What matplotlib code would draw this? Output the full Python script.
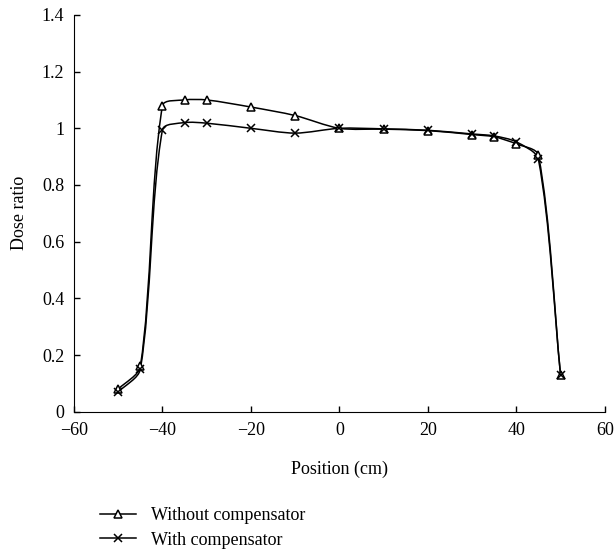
import numpy as np
import matplotlib
matplotlib.use("Agg")
from matplotlib import pyplot as plt
from matplotlib.path import Path
from matplotlib.patches import PathPatch
from matplotlib.lines import Line2D

position = [-50, -45, -40, -35, -30, -20, -10, 0, 10, 20, 30, 35, 40, 45, 50]
without_comp = [0.08, 0.16, 1.08, 1.10, 1.10, 1.075, 1.045, 1.0, 0.997, 0.992, 0.978, 0.970, 0.945, 0.905, 0.13]
with_comp = [0.07, 0.15, 0.995, 1.02, 1.018, 1.0, 0.983, 1.0, 0.998, 0.993, 0.980, 0.973, 0.952, 0.89, 0.13]

plt.rcParams['font.family'] = ['Liberation Serif', 'DejaVu Serif']
plt.rcParams['font.size'] = 13


def smooth_path(ax, x, y):
    # smoothed line like a spreadsheet chart: bezier segments built in screen space
    pts = ax.transData.transform(np.column_stack([x, y]))
    verts = [pts[0]]
    codes = [Path.MOVETO]
    n = len(pts)
    for i in range(n - 1):
        p0 = pts[i - 1] if i > 0 else pts[i]
        p1 = pts[i]
        p2 = pts[i + 1]
        p3 = pts[i + 2] if i + 2 < n else pts[i + 1]
        seg = np.linalg.norm(p2 - p1)
        t1 = (p2 - p0) / np.linalg.norm(p2 - p0)
        t2 = (p3 - p1) / np.linalg.norm(p3 - p1)
        c1 = p1 + t1 * seg / 3.5
        c2 = p2 - t2 * seg / 3.5
        verts += [c1, c2, p2]
        codes += [Path.CURVE4] * 3
    verts = ax.transData.inverted().transform(np.array(verts))
    return Path(verts, codes)


fig = plt.figure(figsize=(6.14, 5.52), dpi=100)
ax = fig.add_axes([0.1205, 0.254, 0.8645, 0.719])
ax.set_xlim(-60, 60)
ax.set_ylim(0, 1.4)

for ys, mk in [(without_comp, '^'), (with_comp, 'x')]:
    ax.add_patch(PathPatch(smooth_path(ax, position, ys), facecolor='none',
                           edgecolor='black', lw=1.1))
    ax.plot(position, ys, ls='none', marker=mk, ms=6, mfc='white',
            mec='black', mew=1.1, zorder=3)

ax.set_xticks(np.arange(-60, 61, 20))
ax.set_yticks(np.arange(0, 1.41, 0.2))
ax.set_yticklabels(['0', '0.2', '0.4', '0.6', '0.8', '1', '1.2', '1.4'])
ax.set_xticklabels(['\u221260', '\u221240', '\u221220', '0', '20', '40', '60'])
ax.spines['top'].set_visible(False)
ax.spines['right'].set_visible(False)
ax.tick_params(direction='in', length=4, width=1, pad=7)
ax.set_xlabel('Position (cm)', labelpad=16)
ax.set_ylabel('Dose ratio', labelpad=10)

handles = [Line2D([], [], color='black', lw=1.1, marker='^', ms=6, mfc='white', mew=1.1),
           Line2D([], [], color='black', lw=1.1, marker='x', ms=6, mew=1.1)]
fig.legend(handles, ['Without compensator', 'With compensator'],
           loc='upper left', bbox_to_anchor=(0.163, 0.081), frameon=False,
           handlelength=2.0, handletextpad=0.8, labelspacing=0.4,
           borderaxespad=0, borderpad=0)

plt.savefig('out.png', dpi=100)
